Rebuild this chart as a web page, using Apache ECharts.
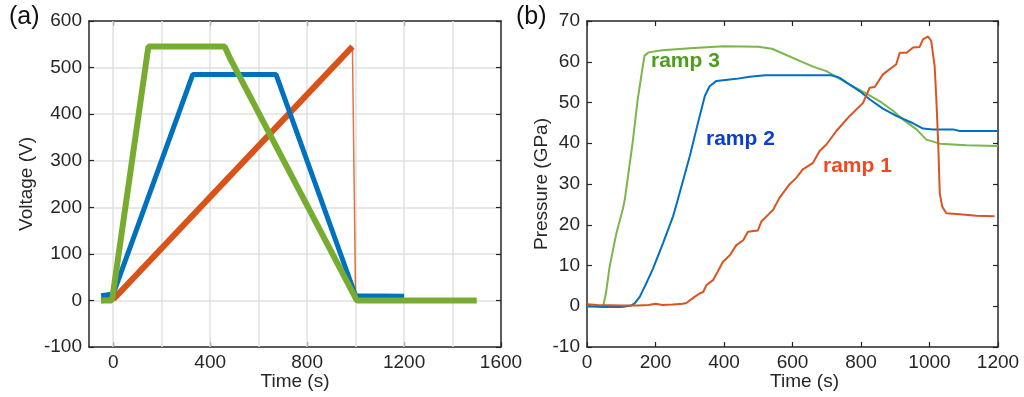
<!DOCTYPE html>
<html><head><meta charset="utf-8">
<script src="https://cdn.jsdelivr.net/npm/echarts@6/dist/echarts.min.js"></script>
<style>html,body{margin:0;padding:0;background:#fff}#c{width:1024px;height:397px}</style>
</head><body><div id="c"></div>
<script>
// ---- Panel (a): Voltage (V) vs Time (s), points [t, V] ----
const voltRamp1 = [[-50,0],[5,5],[987,545]];
const voltRamp1Drop = [[987,545],[1000,0]];
const voltRamp1Tail = [[1000,0],[1200,0]];
const voltRamp2 = [[-50,10],[0,14],[328,485],[672,485],[1000,10],[1200,9]];
const voltRamp3 = [[-50,0],[-5,0],[145,545],[460,545],[480,522],[1005,0],[1500,0]];
const voltXTicks = [0,400,800,1200,1600];
const voltXGrid = [0,200,400,600,800,1000,1200,1400];

// ---- Panel (b): Pressure (GPa) vs Time (s), points [t, P] ----
const presRamp1 = [[0,0.5],[30,0.3],[100,0.2],[150,0.2],[180,0.3],[200,0.6],[220,0.3],[250,0.4],[280,0.6],[290,0.8],[314,2.3],[330,3.2],[339,3.5],[349,5.2],[368,6.4],[383,8.7],[397,10.9],[417,12.5],[436,15],[456,16.2],[470,18.3],[499,18.6],[509,20.8],[533,22.8],[543,23.6],[562,26.6],[591,29.9],[611,31.5],[630,33.6],[660,35.2],[679,38.1],[699,39.7],[728,43],[767,46.7],[806,49.9],[825,53.6],[840,53.8],[864,56.9],[903,59.4],[913,62.2],[933,62.2],[952,63.5],[971,63.6],[981,65.5],[996,66.2],[1005,65.1],[1015,58.9],[1020,50.8],[1025,40.9],[1030,27.7],[1037,24.5],[1049,22.8],[1088,22.6],[1137,22.2],[1190,22.1]];
const presRamp2 = [[0,0],[50,-0.2],[100,-0.2],[130,0.2],[139,0.7],[154,2.3],[173,5.6],[193,9.3],[222,15.5],[251,22],[263,25.5],[300,36.8],[324,45],[344,51.6],[358,54],[378,55.3],[436,55.8],[475,56.3],[520,56.7],[713,56.7],[737,56.1],[767,54.4],[796,52.8],[825,50.8],[864,48.5],[903,46.7],[952,44.9],[981,43.6],[1010,43.4],[1069,43.4],[1088,43.0],[1200,43.0]];
const presRamp3 = [[0,0],[47,0],[55,3],[66,9.7],[86,18],[105,24],[110,26],[133,40],[148,50.7],[163,59],[168,61.5],[180,62.3],[220,62.8],[300,63.3],[400,63.8],[500,63.7],[540,63.2],[562,62.4],[621,60.2],[660,58.8],[699,57.7],[757,54.9],[816,52.2],[855,50.3],[894,47.9],[923,45.8],[962,43.4],[991,40.9],[1030,39.9],[1108,39.5],[1200,39.3]];
const rampLabels = ['ramp 1','ramp 2','ramp 3'];
const panelLabels = ['(a)','(b)'];

const FONT = 'Arial, "Liberation Sans", Helvetica, sans-serif';
const DARK = '#262626';
const C_BLUE = '#0072BD', C_ORANGE = '#D95319', C_GREEN = '#77AC30';
const plain = v => String(v);

function boxAxis(extra) {
  return Object.assign({
    axisLine: {show: true, onZero: false, lineStyle: {color: DARK, width: 1.5}},
    axisTick: {show: true, inside: true, length: 5, lineStyle: {color: DARK, width: 1.2}},
    axisLabel: {show: false},
    splitLine: {show: false}
  }, extra);
}
const labelStyle = {show: true, color: DARK, fontSize: 19, fontFamily: FONT, formatter: plain};
const nameStyle = {color: DARK, fontSize: 19, fontFamily: FONT};

const chart = echarts.init(document.getElementById('c'), null, {renderer: 'canvas'});
chart.setOption({
  animation: false,
  backgroundColor: '#fff',
  grid: [
    {left: 89, top: 21, width: 412, height: 326, containLabel: false, outerBoundsMode: 'none'},
    {left: 587, top: 21, width: 411, height: 326, containLabel: false, outerBoundsMode: 'none'}
  ],
  xAxis: [
    boxAxis({gridIndex: 0, type: 'value', position: 'bottom', min: -100, max: 1600,
      axisTick: {show: true, inside: true, length: 5, customValues: voltXTicks, lineStyle: {color: DARK, width: 1.2}},
      axisLabel: Object.assign({customValues: voltXTicks, margin: 6}, labelStyle),
      name: 'Time (s)', nameLocation: 'middle', nameGap: 25, nameMoveOverlap: false, nameTextStyle: nameStyle}),
    boxAxis({gridIndex: 0, type: 'value', position: 'top', min: -100, max: 1600,
      axisTick: {show: true, inside: true, length: 5, customValues: voltXTicks.slice(0, 4), lineStyle: {color: DARK, width: 1.2}}}),
    boxAxis({gridIndex: 1, type: 'value', position: 'bottom', min: 0, max: 1200, interval: 200,
      axisLabel: Object.assign({margin: 6}, labelStyle),
      name: 'Time (s)', nameLocation: 'middle', nameGap: 25, nameMoveOverlap: false,
      nameTextStyle: Object.assign({padding: [0, 0, 0, 24]}, nameStyle)}),
    boxAxis({gridIndex: 1, type: 'value', position: 'top', min: 0, max: 1200, interval: 200})
  ],
  yAxis: [
    boxAxis({gridIndex: 0, type: 'value', position: 'left', min: -100, max: 600, interval: 100,
      axisLabel: Object.assign({margin: 7}, labelStyle),
      splitLine: {show: true, showMinLine: false, showMaxLine: false, lineStyle: {color: '#e0e0e0', width: 1.5}},
      name: 'Voltage (V)', nameLocation: 'middle', nameGap: 53, nameMoveOverlap: false, nameTextStyle: nameStyle}),
    boxAxis({gridIndex: 0, type: 'value', position: 'right', min: -100, max: 600, interval: 100}),
    boxAxis({gridIndex: 1, type: 'value', position: 'left', min: -10, max: 70, interval: 10,
      axisLabel: Object.assign({margin: 7}, labelStyle),
      name: 'Pressure (GPa)', nameLocation: 'middle', nameGap: 36, nameMoveOverlap: false, nameTextStyle: nameStyle}),
    boxAxis({gridIndex: 1, type: 'value', position: 'right', min: -10, max: 70, interval: 10})
  ],
  series: [
    {type: 'line', xAxisIndex: 0, yAxisIndex: 0, data: voltRamp1, showSymbol: false, z: 2,
      lineStyle: {color: C_ORANGE, width: 6},
      markLine: {silent: true, symbol: 'none', z: 1, animation: false, label: {show: false},
        lineStyle: {color: '#e0e0e0', width: 1.5, type: 'solid'},
        emphasis: {disabled: true},
        data: voltXGrid.map(v => ({xAxis: v}))}},
    {type: 'line', xAxisIndex: 0, yAxisIndex: 0, data: voltRamp1Drop, showSymbol: false, z: 2,
      lineStyle: {color: C_ORANGE, width: 1.5, opacity: 0.8}},
    {type: 'line', xAxisIndex: 0, yAxisIndex: 0, data: voltRamp1Tail, showSymbol: false, z: 2,
      lineStyle: {color: C_ORANGE, width: 5}},
    {type: 'line', xAxisIndex: 0, yAxisIndex: 0, data: voltRamp2, showSymbol: false, z: 3,
      lineStyle: {color: C_BLUE, width: 5}},
    {type: 'line', xAxisIndex: 0, yAxisIndex: 0, data: voltRamp3, showSymbol: false, z: 4,
      lineStyle: {color: C_GREEN, width: 6}},
    {type: 'line', xAxisIndex: 2, yAxisIndex: 2, data: presRamp3, showSymbol: false,
      lineStyle: {color: '#7AB648', width: 2}},
    {type: 'line', xAxisIndex: 2, yAxisIndex: 2, data: presRamp2, showSymbol: false,
      lineStyle: {color: '#0070C4', width: 2}},
    {type: 'line', xAxisIndex: 2, yAxisIndex: 2, data: presRamp1, showSymbol: false,
      lineStyle: {color: '#DA5420', width: 2}}
  ],
  graphic: [
    {type: 'text', left: 9, top: 5, style: {text: panelLabels[0], fontSize: 25, fontFamily: FONT, fill: '#111'}},
    {type: 'text', left: 516, top: 5, style: {text: panelLabels[1], fontSize: 25, fontFamily: FONT, fill: '#111'}},
    {type: 'text', left: 651, top: 51, style: {text: rampLabels[2], fontSize: 21, fontWeight: 'bold', fontFamily: FONT, fill: '#4E9E1C'}},
    {type: 'text', left: 706, top: 129, style: {text: rampLabels[1], fontSize: 21, fontWeight: 'bold', fontFamily: FONT, fill: '#0A3FCC'}},
    {type: 'text', left: 823, top: 156, style: {text: rampLabels[0], fontSize: 21, fontWeight: 'bold', fontFamily: FONT, fill: '#F04A22'}}
  ]
});
</script>
</body></html>
